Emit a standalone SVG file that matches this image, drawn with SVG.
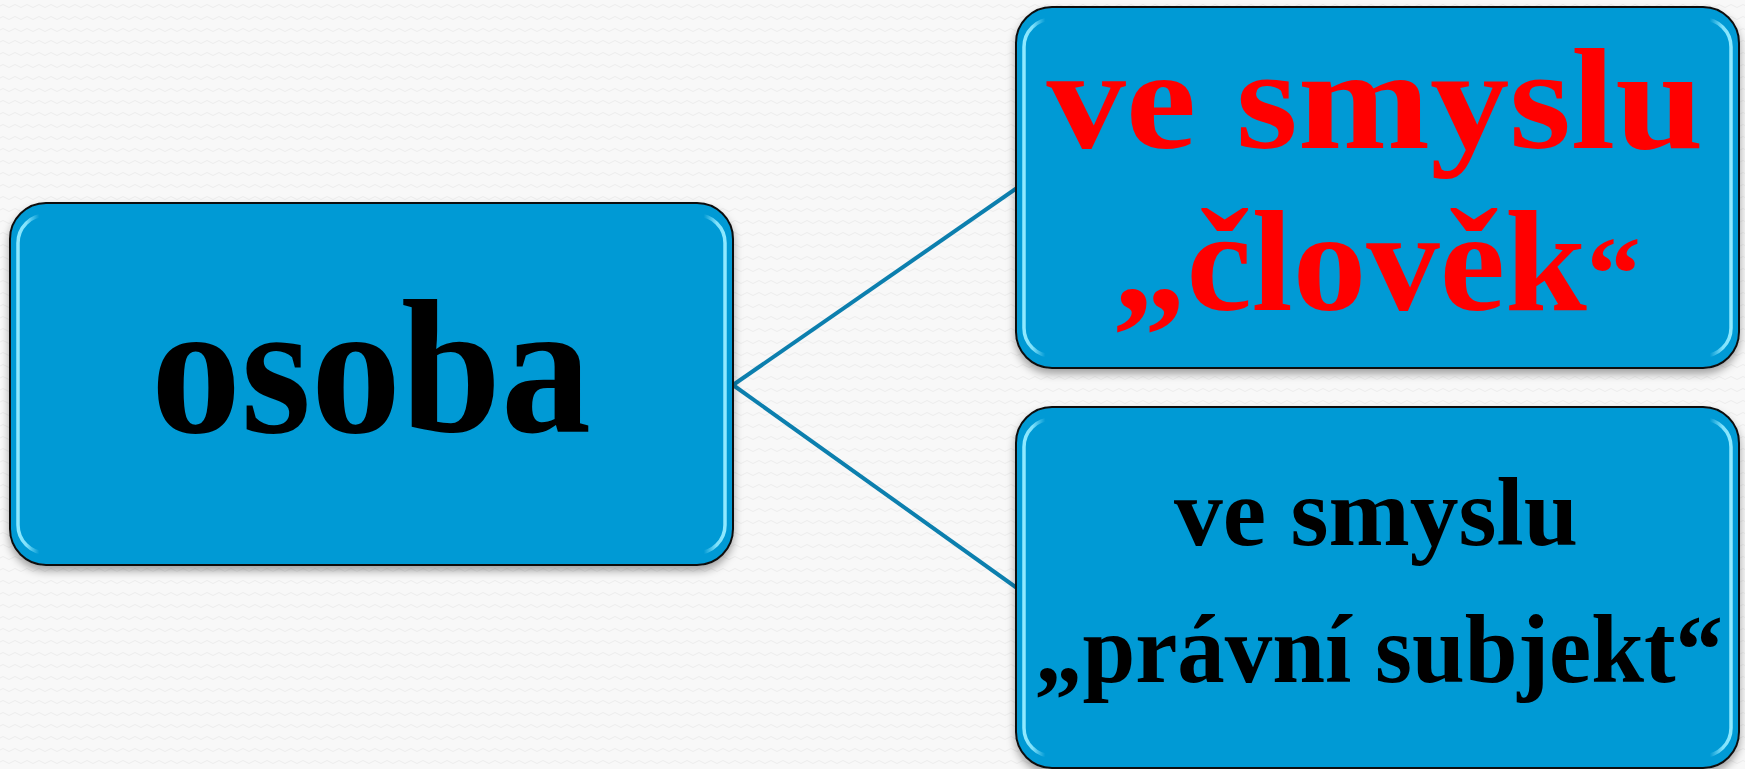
<svg xmlns="http://www.w3.org/2000/svg" width="1745" height="769" viewBox="0 0 1745 769">
  <defs>
    <pattern id="bg" width="12" height="12" patternUnits="userSpaceOnUse">
      <rect width="12" height="12" fill="#f8f8f8"/>
      <path d="M0 6 Q3 3 6 6 T12 6" fill="none" stroke="#ececec" stroke-width="1"/>
    </pattern>
    <linearGradient id="hl" x1="0" y1="0" x2="1" y2="0">
      <stop offset="0" stop-color="#8fe9ff" stop-opacity="1"/>
      <stop offset="0.012" stop-color="#8fe9ff" stop-opacity="0.9"/>
      <stop offset="0.03" stop-color="#8fe9ff" stop-opacity="0"/>
      <stop offset="0.97" stop-color="#8fe9ff" stop-opacity="0"/>
      <stop offset="0.988" stop-color="#8fe9ff" stop-opacity="0.9"/>
      <stop offset="1" stop-color="#8fe9ff" stop-opacity="1"/>
    </linearGradient>
    <filter id="sh" x="-5%" y="-5%" width="110%" height="115%">
      <feDropShadow dx="0" dy="5" stdDeviation="4" flood-color="#000" flood-opacity="0.35"/>
    </filter>
  </defs>
  <style>
    .box { fill: #039ad5; stroke: #111; stroke-width: 2; filter: url(#sh); }
    .hi { fill: none; stroke: url(#hl); stroke-width: 3.5; }
    .conn { stroke: #0c7fae; stroke-width: 4; fill: none; }
    .t { font-family: "Liberation Serif", "DejaVu Serif", serif; font-weight: bold; text-anchor: middle; }
  </style>
  <rect width="1745" height="769" fill="url(#bg)"/>
  <g id="connectors">
    <line class="conn" x1="733" y1="385" x2="1017" y2="188"/>
    <line class="conn" x1="733" y1="385" x2="1017" y2="588"/>
  </g>
  <g id="node-osoba">
    <rect class="box" x="10" y="203" width="723" height="362" rx="36"/>
    <rect class="hi" x="18" y="215" width="707" height="338" rx="28"/>
    <text class="t" x="371" y="432" font-size="190" fill="#000" textLength="440" lengthAdjust="spacingAndGlyphs">osoba</text>
  </g>
  <g id="node-clovek">
    <rect class="box" x="1016" y="7" width="723" height="361" rx="36"/>
    <rect class="hi" x="1024" y="19" width="707" height="337" rx="28"/>
    <text class="t" x="1375" y="148" font-size="144" fill="#ff0000" textLength="657" lengthAdjust="spacingAndGlyphs">ve smyslu</text>
    <text class="t" x="1377" y="310" font-size="144" fill="#ff0000" textLength="528" lengthAdjust="spacingAndGlyphs">„člověk<tspan font-size="106">“</tspan></text>
  </g>
  <g id="node-subjekt">
    <rect class="box" x="1016" y="407" width="723" height="361" rx="36"/>
    <rect class="hi" x="1024" y="419" width="707" height="337" rx="28"/>
    <text class="t" x="1376" y="545" font-size="97" fill="#000" textLength="404" lengthAdjust="spacingAndGlyphs">ve smyslu</text>
    <text class="t" x="1379" y="682" font-size="97" fill="#000" textLength="688" lengthAdjust="spacingAndGlyphs">„právní subjekt“</text>
  </g>
</svg>
